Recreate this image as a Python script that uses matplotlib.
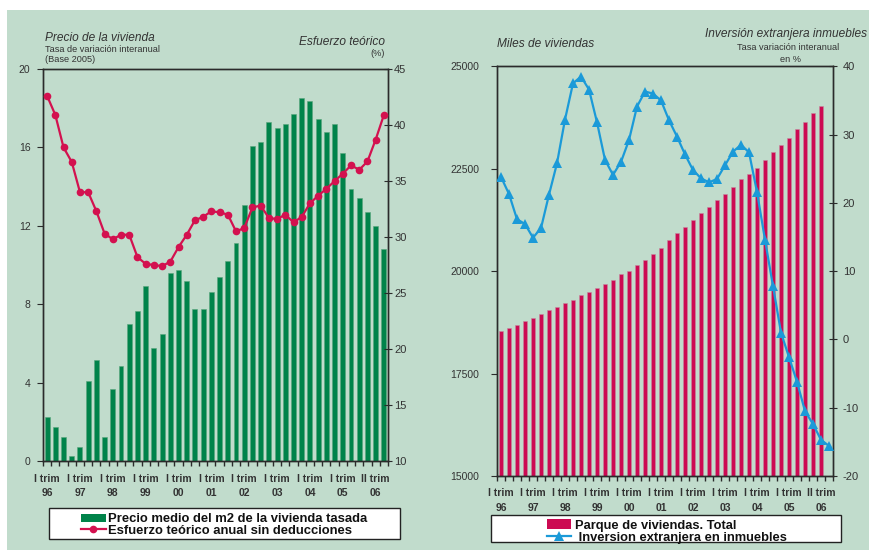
import matplotlib
matplotlib.use("Agg")
import matplotlib.pyplot as plt
from matplotlib.patches import Rectangle, Patch
from matplotlib.lines import Line2D
import numpy as np

plt.rcParams['font.family'] = ['Liberation Sans', 'DejaVu Sans']
plt.rcParams['axes.unicode_minus'] = False

# ---------------- data ----------------
quarters = list(range(42))  # I trim 96 .. II trim 06
xlabels = ["I trim\n96", "I trim\n97", "I trim\n98", "I trim\n99", "I trim\n00",
           "I trim\n01", "I trim\n02", "I trim\n03", "I trim\n04", "I trim\n05",
           "II trim\n06"]
xlabel_pos = [0, 4, 8, 12, 16, 20, 24, 28, 32, 36, 40]

precio = [2.26, 1.72, 1.24, 0.27, 0.73, 4.10, 5.14, 1.21, 3.67, 4.86,
          6.99, 7.67, 8.93, 5.77, 6.50, 9.59, 9.73, 9.20, 7.74, 7.74,
          8.64, 9.39, 10.20, 11.12, 13.06, 16.07, 16.28, 17.28, 16.97, 17.19,
          17.70, 18.54, 18.35, 17.45, 16.79, 17.19, 15.73, 13.89, 13.40, 12.72,
          11.99, 10.80]
esfuerzo = [42.6, 40.9, 38.0, 36.7, 34.0, 34.0, 32.3, 30.3, 29.8, 30.2,
            30.2, 28.2, 27.6, 27.5, 27.4, 27.8, 29.1, 30.2, 31.5, 31.8,
            32.3, 32.2, 32.0, 30.5, 30.8, 32.65, 32.8, 31.7, 31.6, 32.0,
            31.3, 31.8, 33.0, 33.7, 34.3, 35.0, 35.65, 36.4, 36.0, 36.75,
            38.7, 40.9]

parque = [18539, 18619, 18685, 18783, 18856, 18961, 19051, 19132, 19222, 19295,
          19410, 19491, 19581, 19693, 19784, 19923, 20003, 20150, 20272, 20430,
          20572, 20760, 20924, 21085, 21241, 21419, 21573, 21736, 21883, 22061,
          22242, 22378, 22525, 22720, 22908, 23079, 23250, 23462, 23633, 23853,
          24031]
inversion = [23.8, 21.3, 17.6, 16.9, 14.9, 16.3, 21.2, 25.8, 32.2, 37.5,
             38.5, 36.6, 31.8, 26.3, 24.1, 26.0, 29.2, 34.1, 36.3, 36.0,
             35.0, 32.1, 29.7, 27.1, 24.8, 23.6, 23.0, 23.5, 25.5, 27.5,
             28.5, 27.4, 21.6, 14.6, 7.8, 1.0, -2.6, -6.2, -10.5, -12.4,
             -14.7, -15.6]

# ---------------- style ----------------
BG = '#c1dccc'
GREEN = '#00834a'
CRIMSON = '#cc0a52'
RED = '#d3114f'
BLUE = '#1b9ad8'
SPINE = '#2b2b2b'
TXT = '#333333'

W, H = 870, 550
fig = plt.figure(figsize=(W / 100, H / 100), dpi=100, facecolor='white')
fig.add_artist(Rectangle((7 / W, 0), 1 - 7 / W, (H - 10) / H, transform=fig.transFigure,
                         facecolor=BG, edgecolor='none', zorder=-10))


def fx(px):
    return px / W


def fy(py):
    return (H - py) / H


def style_axes(ax, twin):
    ax.set_facecolor('none')
    for s in ax.spines.values():
        s.set_color(SPINE)
        s.set_linewidth(1.0)
    for s in twin.spines.values():
        s.set_color(SPINE)
        s.set_linewidth(1.0)
    ax.set_xlim(-0.5, 41.5)
    ax.set_xticks(xlabel_pos)
    ax.set_xticklabels(xlabels, fontsize=7.5, fontweight='bold', color=TXT,
                       linespacing=1.55)
    ax.set_xticks(np.arange(-0.5, 42, 1.0), minor=True)
    ax.tick_params(axis='x', which='major', length=0, pad=9)
    ax.tick_params(axis='x', which='minor', length=3.5, direction='out',
                   color=SPINE, width=1.0)


# ---------------- left chart ----------------
axL = fig.add_axes([fx(43), fy(461), fx(388 - 43), (461 - 69) / H])
axL2 = axL.twinx()
barsL = axL.bar(quarters, precio, width=0.6, color=GREEN, edgecolor='#5aa57c',
                linewidth=0.4, zorder=2)
lineL, = axL2.plot(quarters, esfuerzo, color=RED, lw=1.6, marker='o',
                   markersize=5.5, markeredgewidth=0, zorder=3)
axL.set_ylim(0, 20)
axL.set_yticks([0, 4, 8, 12, 16, 20])
axL2.set_ylim(10, 45)
axL2.set_yticks([10, 15, 20, 25, 30, 35, 40, 45])
style_axes(axL, axL2)
axL.tick_params(axis='y', length=4, direction='out', color=SPINE, labelsize=7.5,
                labelcolor=TXT, pad=5)
axL2.tick_params(axis='y', length=6, direction='inout', color=SPINE, labelsize=8,
                 labelcolor=TXT, pad=1.5)

fig.text(fx(45), fy(38), 'Precio de la vivienda', fontsize=8.6, style='italic',
         color=TXT, va='center', ha='left')
fig.text(fx(45), fy(49.5), 'Tasa de variación interanual', fontsize=6.6,
         color=TXT, va='center', ha='left')
fig.text(fx(45), fy(59.5), '(Base 2005)', fontsize=6.6, color=TXT, va='center',
         ha='left')
fig.text(fx(385), fy(42), 'Esfuerzo teórico', fontsize=8.6, style='italic',
         color=TXT, va='center', ha='right')
fig.text(fx(385), fy(53.5), '(%)', fontsize=6.6, color=TXT, va='center',
         ha='right')

# ---------------- right chart ----------------
axR = fig.add_axes([fx(497), fy(476), fx(833 - 497), (476 - 66.3) / H])
axR2 = axR.twinx()
barsR = axR.bar(quarters[:len(parque)], parque, width=0.62, color=CRIMSON,
                edgecolor='#c58a9f', linewidth=0.4, zorder=2)
lineR, = axR2.plot(quarters, inversion, color=BLUE, lw=1.6, marker='^',
                   markersize=6.5, markeredgewidth=0, zorder=3)
axR.set_ylim(15000, 25000)
axR.set_yticks([15000, 17500, 20000, 22500, 25000])
axR2.set_ylim(-20, 40)
axR2.set_yticks([-20, -10, 0, 10, 20, 30, 40])
style_axes(axR, axR2)
axR.tick_params(axis='y', length=4, direction='out', color=SPINE, labelsize=7.5,
                labelcolor=TXT, pad=9)
axR2.tick_params(axis='y', length=6, direction='inout', color=SPINE, labelsize=8,
                 labelcolor=TXT, pad=4)

fig.text(fx(497), fy(44), 'Miles de viviendas', fontsize=8.6, style='italic',
         color=TXT, va='center', ha='left')
fig.text(fx(867), fy(34), 'Inversión extranjera inmuebles', fontsize=8.6,
         style='italic', color=TXT, va='center', ha='right')
fig.text(fx(788), fy(48), 'Tasa variación interanual', fontsize=6.6,
         color=TXT, va='center', ha='center')
fig.text(fx(791), fy(60), 'en %', fontsize=6.6, color=TXT, va='center',
         ha='center')

# ---------------- legends ----------------
def legend_box(x0, y0, x1, y1):
    fig.add_artist(Rectangle((fx(x0), fy(y1)), fx(x1 - x0), (y1 - y0) / H,
                             transform=fig.transFigure, facecolor='white',
                             edgecolor='#222222', linewidth=1.0, zorder=5))


legend_box(49, 507.7, 400, 539.3)
hL = [Patch(facecolor=GREEN, edgecolor='none'),
      Line2D([], [], color=RED, lw=1.6, marker='o', markersize=5.5,
             markeredgewidth=0)]
legL = fig.legend(hL, ['Precio medio del m2 de la vivienda tasada',
                       'Esfuerzo teórico anual sin deducciones'],
                  loc='center', bbox_to_anchor=(fx(224), fy(525)),
                  frameon=False, prop={'weight': 'bold', 'size': 9.4},
                  handlelength=1.9, handleheight=0.55, handletextpad=0.15,
                  labelspacing=-0.05, borderpad=0)
legL.set_zorder(6)
for t in legL.get_texts():
    t.set_color('#111111')

legend_box(491, 515, 840.7, 542.3)
hR = [Patch(facecolor=CRIMSON, edgecolor='none'),
      Line2D([], [], color=BLUE, lw=1.6, marker='^', markersize=6.5,
             markeredgewidth=0)]
legR = fig.legend(hR, ['Parque de viviendas. Total',
                       ' Inversion extranjera en inmuebles'],
                  loc='center', bbox_to_anchor=(fx(667), fy(531.5)),
                  frameon=False, prop={'weight': 'bold', 'size': 9.3},
                  handlelength=1.9, handleheight=0.8, handletextpad=0.3,
                  labelspacing=-0.05, borderpad=0)
legR.set_zorder(6)
for t in legR.get_texts():
    t.set_color('#111111')

fig.savefig('out.png', dpi=100, facecolor='white')
